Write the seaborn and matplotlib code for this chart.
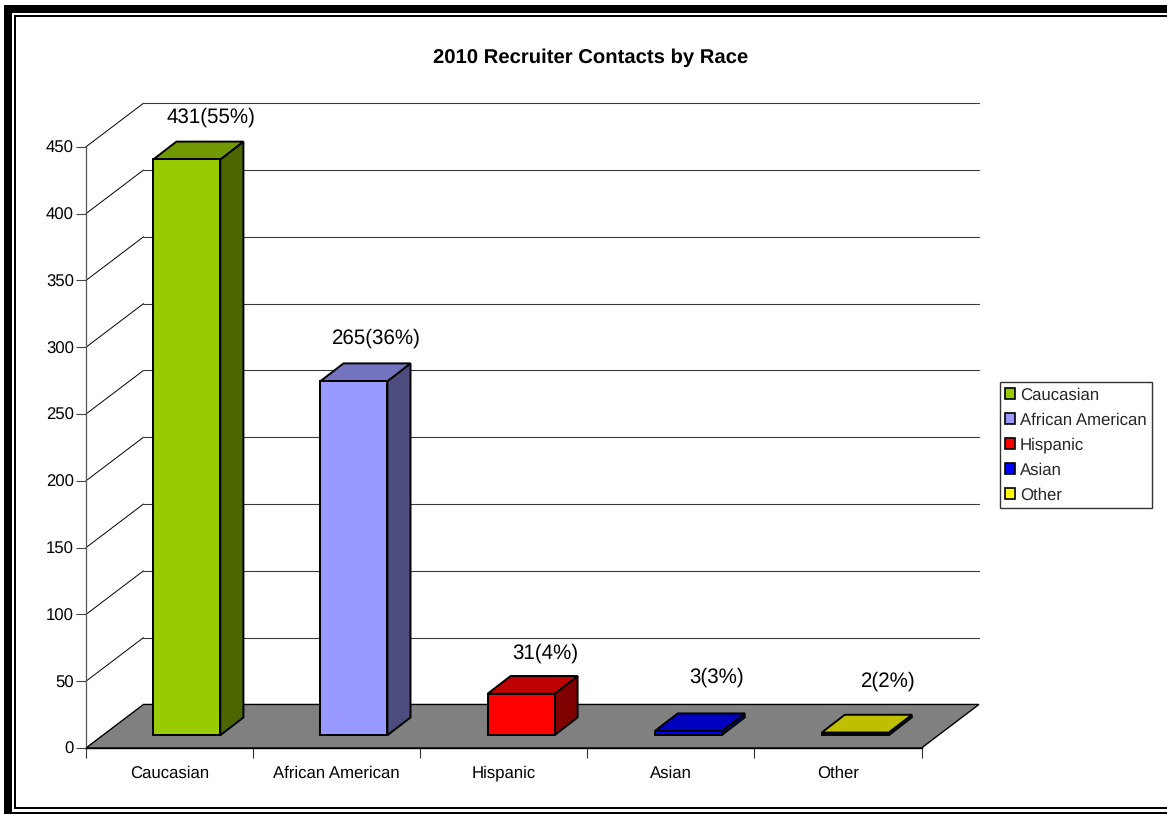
import matplotlib
matplotlib.use("Agg")
import matplotlib.pyplot as plt
import matplotlib.patches as mpatches
from matplotlib.transforms import Affine2D
import numpy as np
import pandas as pd
import seaborn as sns

# Recruiter contacts for 2010
categories = ["Caucasian", "African American", "Hispanic", "Asian", "Other"]
contacts = [431, 265, 31, 3, 2]
percents = [55, 36, 4, 3, 2]
front_colors = ["#99CC00", "#9999FF", "#FF0000", "#0000FF", "#FFFF00"]
value_ticks = [0, 50, 100, 150, 200, 250, 300, 350, 400, 450]
title = "2010 Recruiter Contacts by Race"

W, H = 1167, 814
FONT = "Liberation Sans"

sns.set_style("white")
plt.rcParams["font.family"] = [FONT, "DejaVu Sans"]
plt.rcParams["text.hinting"] = "no_hinting"

fig = plt.figure(figsize=(W / 100, H / 100), dpi=100, facecolor="white")
ax = fig.add_axes([86 / W, 1 - 748 / H, (921.5 - 86) / W, (748 - 146.8) / H])
ax.patch.set_alpha(0)

frame = pd.DataFrame({"category": categories, "contacts": contacts})
sns.barplot(
    data=frame, x="category", y="contacts", hue="category",
    palette=front_colors, width=0.401, legend=False,
    edgecolor="black", linewidth=1.4, saturation=1, ax=ax, zorder=4,
)
ax.set_xlim(-0.5, 4.5)
ax.set_ylim(0, 450)

# Oblique depth of the chart box and of each bar, in data units
WALL_X, WALL_Y = 0.344, 32.6
BAR_X, BAR_Y = 0.138, 13.3
lift = Affine2D().translate(17.3, 12.8)


def shade(colour, factor):
    r, g, b = matplotlib.colors.to_rgb(colour)
    return (r * factor, g * factor, b * factor)


# Floor of the chart box
ax.add_patch(mpatches.Polygon(
    [(-0.5, 0), (4.5, 0), (4.5 + WALL_X, WALL_Y), (-0.5 + WALL_X, WALL_Y)],
    closed=True, facecolor="#808080", edgecolor="black", linewidth=1.0,
    clip_on=False, zorder=1,
))

# Gridlines run along the side wall, then across the back wall
for v in value_ticks[1:]:
    ax.plot([-0.5, -0.5 + WALL_X], [v, v + WALL_Y], color="black", lw=0.7,
            clip_on=False, zorder=1)
    ax.plot([-0.5 + WALL_X, 4.5 + WALL_X], [v + WALL_Y] * 2, color="#3a3a3a",
            lw=0.8, clip_on=False, zorder=1)

# Extrude each bar: right side and top face
bars = [b for c in ax.containers for b in c]
label_offsets = [(24, 24), (22, 25), (24, 23), (28, 36), (33, 34)]
for bar, value, pct, col, off in zip(bars, contacts, percents, front_colors, label_offsets):
    bar.set_transform(ax.transData + lift)
    bar.set_clip_on(False)
    x0, x1 = bar.get_x(), bar.get_x() + bar.get_width()
    side = mpatches.Polygon(
        [(x1, 0), (x1, value), (x1 + BAR_X, value + BAR_Y), (x1 + BAR_X, BAR_Y)],
        closed=True, facecolor=shade(col, 0.5), edgecolor="black", linewidth=1.4,
        transform=ax.transData + lift, clip_on=False, zorder=3,
    )
    top = mpatches.Polygon(
        [(x0, value), (x1, value), (x1 + BAR_X, value + BAR_Y), (x0 + BAR_X, value + BAR_Y)],
        closed=True, facecolor=shade(col, 0.75), edgecolor="black", linewidth=1.4,
        transform=ax.transData + lift, clip_on=False, zorder=3,
    )
    ax.add_patch(side)
    ax.add_patch(top)
    ax.annotate(
        f"{value}({pct}%)",
        xy=(x1 + BAR_X / 2 - 0.2, value + BAR_Y), xycoords=ax.transData + lift,
        xytext=(off[0] * 0.72 - 8.3, off[1] * 0.72), textcoords="offset points",
        ha="center", va="center", fontsize=14.8, color="black",
        annotation_clip=False, zorder=6,
    )

# Axes furniture
sns.despine(ax=ax, top=True, right=True)
for name in ("left", "bottom"):
    ax.spines[name].set_zorder(2)
ax.spines["left"].set_color("#555555")
ax.spines["left"].set_linewidth(0.9)
ax.spines["left"].set_bounds(0, 450)
ax.spines["bottom"].set_color("black")
ax.spines["bottom"].set_linewidth(1.0)

ax.set_xlabel("")
ax.set_ylabel("")
ax.set_yticks(value_ticks)
ax.set_yticklabels([str(v) for v in value_ticks])
ax.tick_params(axis="y", which="major", left=True, length=7.2, width=0.8,
               color="#444444", labelsize=12.1, pad=1.5, labelcolor="black")
ax.set_xticks(np.arange(-0.5, 5.0, 1.0))
ax.set_xticklabels([])
ax.set_xticks(np.arange(5), labels=categories, minor=True)
ax.tick_params(axis="x", which="major", bottom=True, length=7.2, width=0.8, color="#333333")
ax.tick_params(axis="x", which="minor", bottom=False, length=0, labelsize=12.1,
               pad=12.5, labelcolor="black")

# Legend swatches
handles = [mpatches.Patch(facecolor=c, edgecolor="black", linewidth=1.2, label=n)
           for c, n in zip(front_colors, categories)]
leg = fig.legend(
    handles=handles, loc="upper left",
    bbox_to_anchor=(999.7 / W, 1 - 382.3 / H), bbox_transform=fig.transFigure,
    fontsize=12.1, frameon=True, fancybox=False, framealpha=1,
    edgecolor="#333333", borderaxespad=0, borderpad=0.3,
    handlelength=0.6, handleheight=0.6, handletextpad=0.3, labelspacing=0.54,
)
leg.get_frame().set_linewidth(1.0)

fig.text(591 / W, 1 - 58 / H, title, ha="center", va="center",
         fontsize=14.6, fontweight="bold", color="black")


# Double-rule page border
def rule(x0, y0, x1, y1):
    fig.add_artist(mpatches.Rectangle(
        (x0 / W, 1 - y1 / H), (x1 - x0) / W, (y1 - y0) / H,
        transform=fig.transFigure, facecolor="black", edgecolor="none"))


rule(4, 5, 12, 814)
rule(4, 5, W, 13)
rule(4, 812, W, 814)
rule(14, 15, 16, 809)
rule(14, 15, W, 17)
rule(14, 807, W, 809)

fig.savefig("out.png", dpi=100, facecolor="white")
